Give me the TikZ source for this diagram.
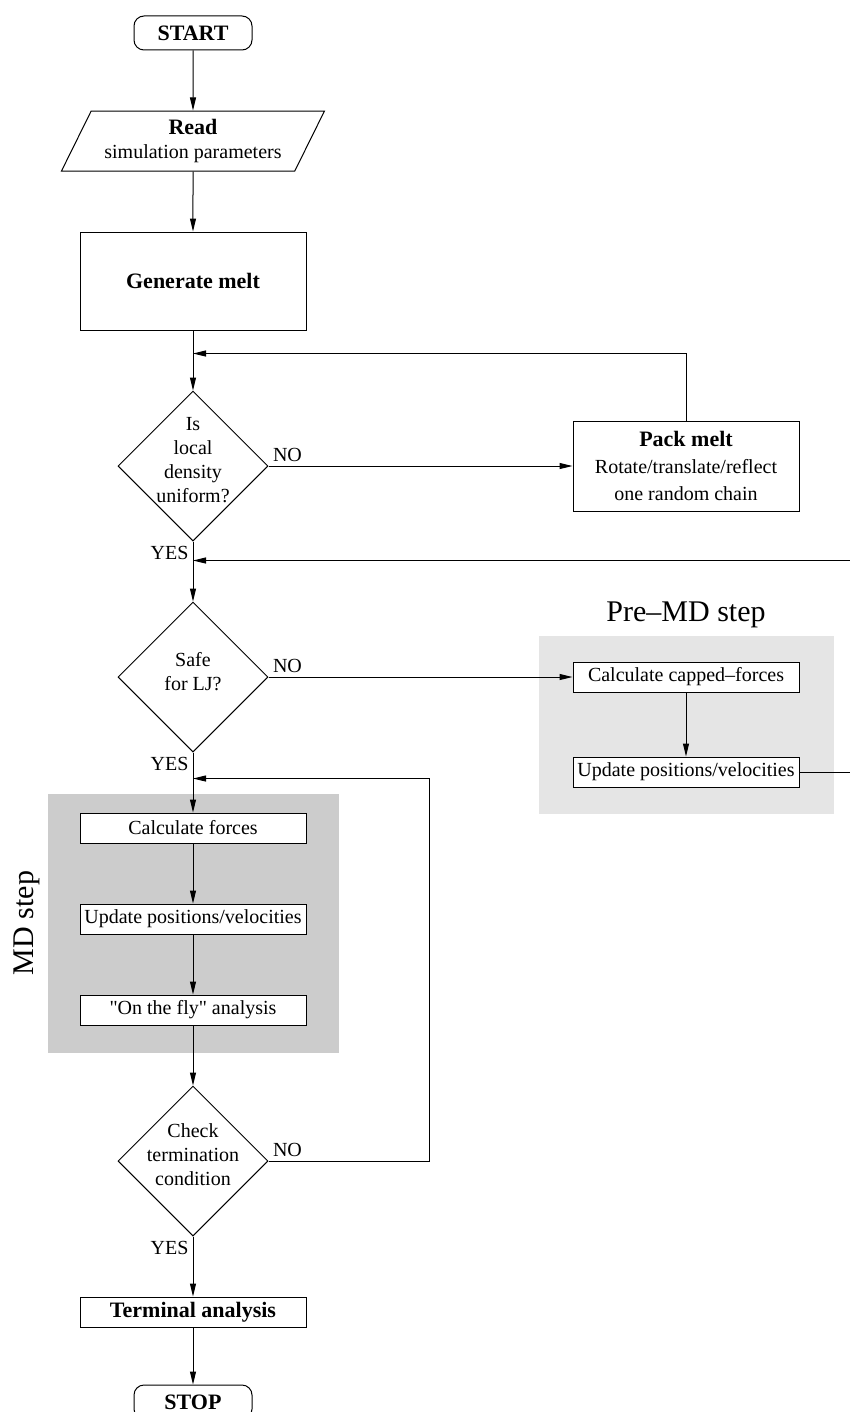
\documentclass[tikz,border=0pt]{standalone}
\usepackage{fontspec}
\setmainfont{Liberation Serif}
\usetikzlibrary{arrows.meta, positioning, shapes.geometric, fit, calc, backgrounds}
\definecolor{mdgray}{HTML}{CCCCCC}
\definecolor{premdgray}{HTML}{E5E5E5}

\begin{document}
\begin{tikzpicture}[
      node distance=30pt and 152pt,
      line width=0.5pt,
      font=\fontsize{10}{12}\selectfont,
      terminal/.style={draw, rounded corners=5pt, minimum width=59pt,
                       minimum height=17pt, inner sep=1pt,
                       font=\fontsize{11}{13}\selectfont\bfseries},
      io/.style={draw, trapezium, trapezium left angle=58,
                 trapezium right angle=122, trapezium stretches body,
                 minimum width=131.5pt, minimum height=30pt,
                 inner sep=1pt, align=center},
      process/.style={draw, fill=white, minimum width=113pt,
                      minimum height=15pt, inner sep=1pt, align=center},
      decision/.style={draw, diamond, aspect=1, minimum size=75pt,
                       inner sep=-4pt, text depth=6pt, align=center},
      answer/.style={inner sep=2pt},
      grouptitle/.style={font=\fontsize{15}{18}\selectfont},
      arr/.style={-{Triangle[length=6.5pt, width=3pt]}},
    ]
    \useasboundingbox (0,0) rectangle (425pt,-706pt);

    % Main column
    \node[terminal] (start) at (96.5pt,-16.5pt) {START};
    \node[io, below=of start] (read)
      {{\bfseries\fontsize{11}{13}\selectfont Read}\\simulation parameters};
    \node[process, minimum height=49pt, below=of read,
          font=\fontsize{11}{13}\selectfont\bfseries] (gen) {Generate melt};
    \node[decision, below=of gen] (dens) {Is\\local\\density\\uniform?};
    \node[decision, below=of dens] (safe) {Safe\\for LJ?};

    % MD step
    \node[process, below=of safe] (force) {Calculate forces};
    \node[process, below=of force] (update) {Update positions/velocities};
    \node[process, below=of update] (fly)
      {\textquotedbl On the fly\textquotedbl{} analysis};

    \node[decision, below=of fly] (check) {Check\\termination\\condition};
    \node[process, below=of check,
          font=\fontsize{11}{13}\selectfont\bfseries] (term) {Terminal analysis};
    \node[terminal, below=28.5pt of term] (stop) {STOP};

    % Side branches
    \node[process, minimum height=45pt, right=of dens] (pack)
      {{\bfseries\fontsize{11}{13}\selectfont Pack melt}\\[1.5pt]
       Rotate/translate/reflect\\[1.5pt] one random chain};
    \node[process, right=of safe] (capped) {Calculate capped--forces};
    \node[process, below=32pt of capped] (preupdate) {Update positions/velocities};

    % Step boxes
    \begin{scope}[on background layer]
      \node[fill=premdgray, fit=(capped)(preupdate), inner xsep=17pt,
            inner ysep=13pt] (premd) {};
      \node[fill=mdgray, fit=(force)(fly), inner xsep=16pt,
            inner ysep=11.5pt, yshift=-2pt] (md) {};
    \end{scope}
    \node[grouptitle, above=0pt of premd] (premdtitle) {Pre--MD step};
    \node[grouptitle, rotate=90, anchor=south] (mdtitle) at (md.west) {MD step};

    % Junctions on the main column
    \coordinate (packin) at ($(gen.south)+(0,-11.5pt)$);
    \coordinate (prein)  at ($(dens.south)+(0,-9.5pt)$);
    \coordinate (loopin) at ($(safe.south)+(0,-13pt)$);

    % Arrows
    \draw[arr] (start) -- (read);
    \draw[arr] (read)  -- (gen);
    \draw[arr] (gen)   -- (dens);
    \draw[arr] (dens) -- node[answer, pos=0, anchor=south west] {NO} (pack);
    \draw[arr] (pack.north) |- (packin);
    \draw[arr] (dens) -- node[answer, pos=0, anchor=north east] {YES} (safe);
    \draw[arr] (safe) -- node[answer, pos=0, anchor=south west] {NO} (capped);
    \draw[arr] (capped) -- (preupdate);
    \draw[arr] (preupdate.east) -- ++(25.5pt,0) |- (prein);
    \draw[arr] (safe) -- node[answer, pos=0, anchor=north east] {YES} (force);
    \draw[arr] (force)  -- (update);
    \draw[arr] (update) -- (fly);
    \draw[arr] (fly)    -- (check);
    \draw[arr] (check.east) -- node[answer, pos=0, anchor=south west] {NO}
      ++(80.5pt,0) |- (loopin);
    \draw[arr] (check) -- node[answer, pos=0, anchor=north east] {YES} (term);
    \draw[arr] (term) -- (stop);
  \end{tikzpicture}
\end{document}
